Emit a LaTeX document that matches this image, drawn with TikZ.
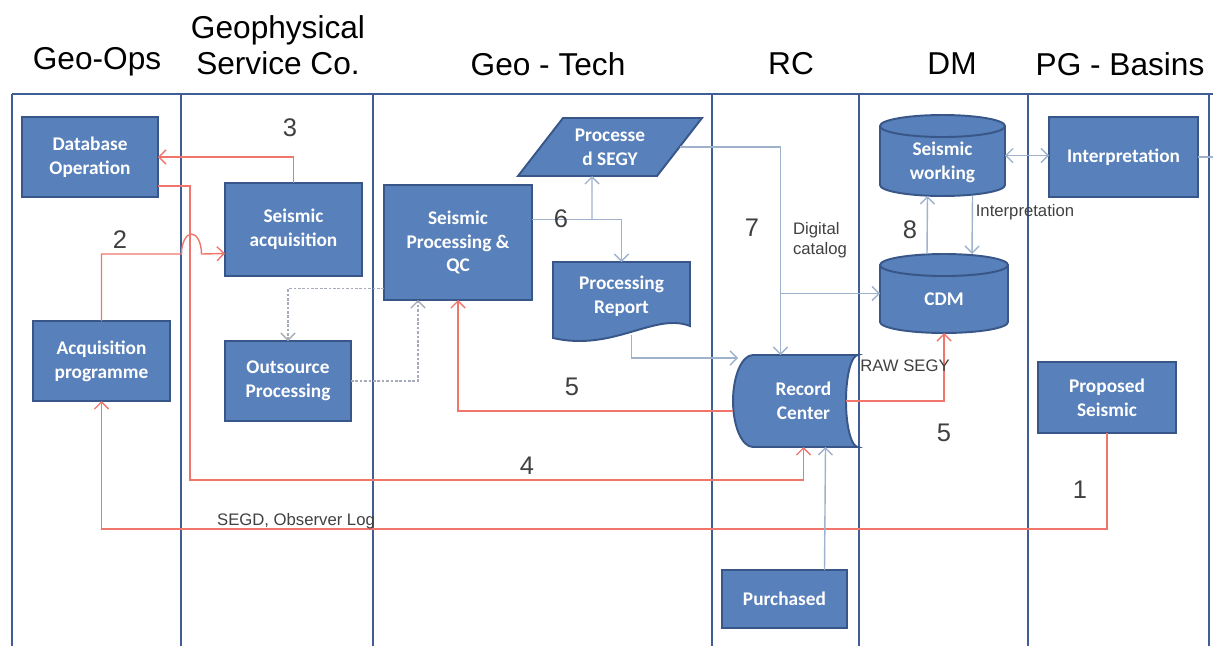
\documentclass[tikz,border=0pt]{standalone}
\usepackage{fontspec}
\setmainfont{Liberation Sans}
\newfontfamily\boxfont{Carlito}
\usepackage{xcolor}
\usetikzlibrary{arrows.meta, positioning, calc}

\definecolor{laneblue}{RGB}{63,94,150}
\definecolor{boxfill}{RGB}{88,128,186}
\definecolor{boxedge}{RGB}{56,86,136}
\definecolor{flowred}{RGB}{240,118,108}
\definecolor{flowblue}{RGB}{158,178,204}
\definecolor{flowgray}{RGB}{165,172,184}

\begin{document}
\begin{tikzpicture}[
    x=0.02cm, y=-0.02cm,
    lane/.style={draw=laneblue, line width=1.6pt},
    header/.style={font=\fontsize{18}{20.5}\selectfont, align=center},
    box/.style={rectangle, draw=boxedge, fill=boxfill, line width=1.1pt, text=white, font=\boxfont\bfseries\fontsize{11}{13.5}\selectfont, align=center, inner sep=0pt, outer sep=0pt},
    shapebox/.style={draw=boxedge, fill=boxfill, line width=1.1pt},
    frame/.style={rectangle, inner sep=0pt, outer sep=0pt, minimum width=#1},
    boxtext/.style={text=white, font=\boxfont\bfseries\fontsize{11}{13.5}\selectfont, align=center, inner sep=0pt},
    steplabel/.style={font=\fontsize{14.5}{15}\selectfont, text=black!75},
    note/.style={font=\fontsize{9.5}{11.5}\selectfont, text=black!75, align=left, inner sep=1pt},
    redarrow/.style={->, >={Straight Barb[length=4pt, width=8pt]}, draw=flowred, line width=0.8pt},
    bluearrow/.style={->, >={Straight Barb[length=4pt, width=8pt]}, draw=flowblue, line width=0.8pt},
    dotarrow/.style={->, >={Straight Barb[length=4pt, width=8pt]}, draw=flowgray, line width=0.8pt, dash pattern=on 1.5pt off 1pt},
  ]
    \useasboundingbox (0,0) rectangle (1213,646);

    % Lanes
    \foreach \x in {12,181,373,712,859,1028,1209}
      \draw[lane] (\x,94) -- (\x,646);
    \draw[lane] (12,94) -- (1213,94);

    % Headers
    \node[header] (hgeoops) at (97,62) {Geo-Ops};
    \node[header] (hservice) at (278,45) {Geophysical\\Service Co.};
    \node[header] (hgeotech) at (548,64) {Geo - Tech};
    \node[header] (hrc) at (791,64) {RC};
    \node[header] (hdm) at (952,64) {DM};
    \node[header] (hpg) at (1120,64) {PG - Basins};

    % Nodes
    \node[box, minimum width=2.72cm, minimum height=1.6cm] (dbop) at (90,157) {Database\\Operation};
    \node[box, minimum width=2.74cm, minimum height=1.86cm] (sacq) at (293.5,229.5) {Seismic\\acquisition};
    \node[box, minimum width=2.74cm, minimum height=1.6cm] (acqprog) at (101.5,361) {Acquisition\\programme};
    \node[box, minimum width=2.52cm, minimum height=1.6cm] (outsrc) at (288,381) {Outsource\\Processing};
    \node[box, minimum width=2.96cm, minimum height=2.3cm] (sproc) at (458,242.5) {Seismic\\Processing \&\\QC};
    \node[box, minimum width=2.5cm, minimum height=1.16cm] (purch) at (784.5,599) {Purchased};
    \node[box, minimum width=2.98cm, minimum height=1.6cm] (interp) at (1123.5,157) {Interpretation};
    \node[box, minimum width=2.76cm, minimum height=1.42cm] (propsei) at (1107,397.5) {Proposed\\Seismic};

    % Processed SEGY
    \node[frame=3.68cm, minimum height=1.16cm] (psegy) at (610,147) {};
    \filldraw[shapebox] ($(psegy.north west)+(45,0)$) -- (psegy.north east) -- ($(psegy.south east)+(-45,0)$) -- (psegy.south west) -- cycle;
    \node[boxtext] (psegy-t) at (psegy) {Processe\\d SEGY};

    % Processing Report
    \node[frame=2.74cm, minimum height=1.36cm] (rep) at (621.5,296) {};
    \filldraw[shapebox] (rep.north west) -- (rep.north east) -- ($(rep.south east)+(0,-4)$)
      .. controls ($(rep.south east)+(-35,-18)$) and ($(rep.south west)+(60,22)$) .. ($(rep.south west)+(0,8)$) -- cycle;
    \node[boxtext] (rep-t) at (rep) {Processing\\Report};

    % Record Center
    \node[frame=2.5cm, minimum height=1.84cm] (rc) at (795.5,401) {};
    \filldraw[shapebox] ($(rc.north west)+(20,0)$) arc[start angle=90, end angle=270, x radius=0.4cm, y radius=0.92cm]
      -- (rc.south east) arc[start angle=270, end angle=90, x radius=0.24cm, y radius=0.92cm] -- cycle;
    \node[boxtext] (rc-t) at ($(rc)+(8,0)$) {Record\\Center};

    % Seismic working
    \node[frame=2.5cm, minimum height=1.62cm] (sw) at (942.5,155.5) {};
    \filldraw[shapebox] ($(sw.north west)+(0,11)$) -- ($(sw.south west)+(0,-11)$)
      arc[start angle=180, end angle=360, x radius=1.25cm, y radius=0.22cm]
      -- ($(sw.north east)+(0,11)$) arc[start angle=0, end angle=180, x radius=1.25cm, y radius=0.22cm] -- cycle;
    \draw[shapebox, fill=none] ($(sw.north west)+(0,11)$) arc[start angle=180, end angle=360, x radius=1.25cm, y radius=0.22cm];
    \node[boxtext] (sw-t) at ($(sw)+(0,7)$) {Seismic\\working};

    % CDM
    \node[frame=2.56cm, minimum height=1.58cm] (cdm) at (944,293.5) {};
    \filldraw[shapebox] ($(cdm.north west)+(0,11)$) -- ($(cdm.south west)+(0,-11)$)
      arc[start angle=180, end angle=360, x radius=1.28cm, y radius=0.22cm]
      -- ($(cdm.north east)+(0,11)$) arc[start angle=0, end angle=180, x radius=1.28cm, y radius=0.22cm] -- cycle;
    \draw[shapebox, fill=none] ($(cdm.north west)+(0,11)$) arc[start angle=180, end angle=360, x radius=1.28cm, y radius=0.22cm];
    \node[boxtext] (cdm-t) at ($(cdm)+(0,6)$) {CDM};

    % Arrows
    \draw[redarrow] (propsei.south) -- ++(0,96) -| (acqprog.south);
    \draw[redarrow] (acqprog.north) -- ++(0,-67) -- ++(80,0)
      arc[start angle=180, end angle=0, x radius=0.2cm, y radius=0.4cm] -- ($(sacq.west)+(0,24)$);
    \draw[redarrow] (sacq.north) |- (dbop.east);
    \draw[redarrow] ($(dbop.east)+(0,29)$) -- ++(32,0) |- ($(rc.south)+(8,33)$) -- ($(rc.south)+(8,0)$);
    \draw[redarrow] ($(rc.west)+(0,10)$) -| (sproc.south);
    \draw[redarrow] ($(rc.east)+(-12,0)$) -| (cdm.south);

    \coordinate (cat) at ($(rc.north)+(-15,0)$);
    \draw[bluearrow] ($(sproc.east)+(0,-23)$) -| (rep.north);
    \draw[bluearrow] ($(sproc.east)+(60,-23)$) -- ($(psegy.south)+(-18,0)$);
    \draw[bluearrow] ($(psegy.east)+(-22,0)$) -| (cat);
    \draw[bluearrow] (cat |- cdm.west) -- (cdm.west);
    \draw[bluearrow] ($(rep.south)+(10,5)$) |- ($(rc.north west)+(5,3)$);
    \draw[bluearrow] ($(purch.north)+(40,0)$) -- ($(rc.south)+(30,0)$);
    \draw[bluearrow] ($(cdm.north)+(-17,0)$) -- ($(sw.south)+(-15,0)$);
    \draw[bluearrow] ($(sw.south)+(30,0)$) -- ($(cdm.north)+(28,0)$);
    \draw[bluearrow, <->] (sw.east) -- (sw.east -| interp.west);
    \draw[flowblue, line width=0.8pt] (interp.east) -- ++(15,0);

    \draw[dotarrow] ($(sproc.west)+(0,46)$) -| (outsrc.north);
    \draw[dotarrow] (outsrc.east) -| ($(sproc.south)+(-40,0)$);

    % Labels
    \node[steplabel] (n1) at (1080,490) {1};
    \node[steplabel] (n2) at (120,240) {2};
    \node[steplabel] (n3) at (290,128) {3};
    \node[steplabel] (n4) at (527,466) {4};
    \node[steplabel] (n5a) at (572,387) {5};
    \node[steplabel] (n5b) at (944,433) {5};
    \node[steplabel] (n6) at (561,219) {6};
    \node[steplabel] (n7) at (752,228) {7};
    \node[steplabel] (n8) at (910,230) {8};
    \node[note, anchor=west] (catalog) at (791,240) {Digital\\catalog};
    \node[note] (interpnote) at (1025,212) {Interpretation};
    \node[note] (rawsegy) at (905,366) {RAW SEGY};
    \node[note] (segd) at (296,521) {SEGD, Observer Log};

  \end{tikzpicture}
\end{document}
